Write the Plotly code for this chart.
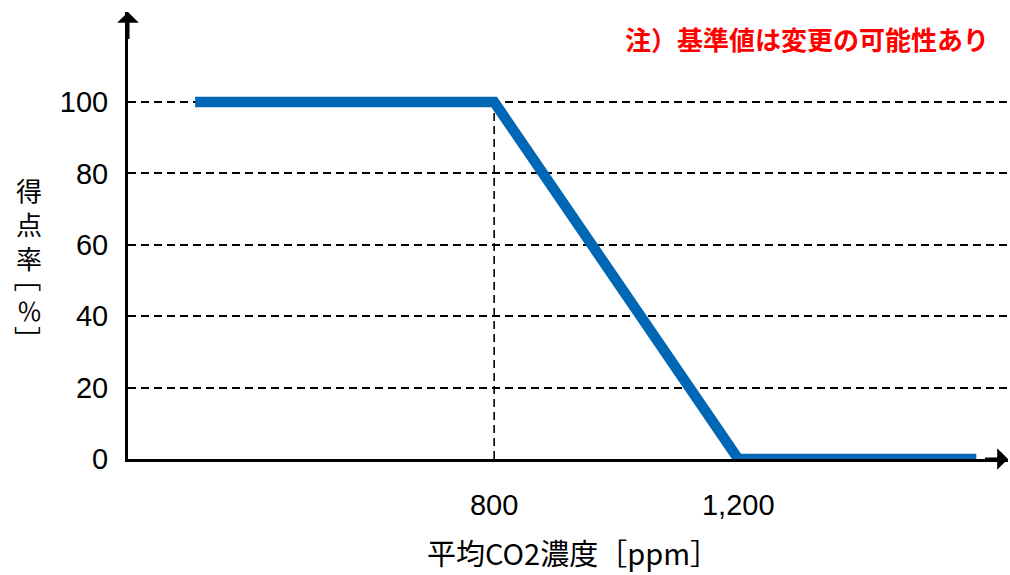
import plotly.graph_objects as go

# ---- data ----
co2_ppm = [310, 800, 1200, 1590]
score_pct = [100, 100, 0, 0]
x_tick_vals = [800, 1200]
x_tick_text = ["800", "1,200"]
y_tick_vals = [0, 20, 40, 60, 80, 100]
y_tick_text = ["0", "20", "40", "60", "80", "100"]
x_range = [200, 1642]
y_range = [0, 125.2]
note_text = "注）基準値は変更の可能性あり"
x_title = "平均CO2濃度［ppm］"
y_title_main = "得<br>点<br>率"
y_title_open = "［"
y_title_unit = "％"
y_title_close = "］"

# ---- layout geometry (pixels) ----
W, H = 1010, 575
L, R, T, B = 128, 2, 12, 116
plot_w = W - L - R
plot_h = H - T - B


def py_to_paper(py):
    return (H - B - py) / plot_h


def px_to_paper(px):
    return (px - L) / plot_w


fig = go.Figure()
fig.add_trace(go.Scatter(
    x=co2_ppm, y=score_pct, mode="lines",
    line=dict(color="#0067b5", width=10.5),
    hoverinfo="skip", showlegend=False,
))

# vertical dashed guide at the knee point
fig.add_shape(type="line", xref="x", yref="y",
              x0=co2_ppm[1], x1=co2_ppm[1], y0=0, y1=score_pct[1],
              line=dict(color="black", width=1.6, dash="8px,5px"), layer="below")

cjk = "Noto Sans CJK JP"
annotations = []
# arrow heads for the axes
annotations.append(dict(x=x_range[1], y=0, ax=x_range[1] - 40, ay=0,
                        xref="x", yref="y", axref="x", ayref="y",
                        showarrow=True, arrowhead=1, arrowsize=1.2, arrowwidth=3,
                        arrowcolor="black", text=""))
annotations.append(dict(x=x_range[0], y=y_range[1], ax=x_range[0], ay=y_range[1] - 8,
                        xref="x", yref="y", axref="x", ayref="y",
                        showarrow=True, arrowhead=1, arrowsize=1.2, arrowwidth=3,
                        arrowcolor="black", text=""))
# note
annotations.append(dict(x=px_to_paper(991), y=py_to_paper(38), xref="paper", yref="paper",
                        xanchor="right", yanchor="middle", showarrow=False,
                        text="<b>" + note_text + "</b>",
                        font=dict(family=cjk, size=26, color="#ff0000")))
# x-axis title
annotations.append(dict(x=px_to_paper(573), y=py_to_paper(552), xref="paper", yref="paper",
                        xanchor="center", yanchor="middle", showarrow=False, text=x_title,
                        font=dict(family=cjk, size=29, color="black")))

# vertical y-axis title (characters stacked, brackets rotated)
cx = px_to_paper(29)
annotations.append(dict(x=cx, y=py_to_paper(223), xref="paper", yref="paper",
                        xanchor="center", yanchor="middle", showarrow=False, text=y_title_main,
                        font=dict(family=cjk, size=26, color="black")))
annotations.append(dict(x=cx, y=py_to_paper(278), xref="paper", yref="paper",
                        xanchor="center", yanchor="middle", showarrow=False, text=y_title_open,
                        textangle=90, font=dict(family=cjk, size=27, color="black")))
annotations.append(dict(x=cx, y=py_to_paper(310), xref="paper", yref="paper",
                        xanchor="center", yanchor="middle", showarrow=False, text=y_title_unit,
                        font=dict(family=cjk, size=25, color="black")))
annotations.append(dict(x=cx, y=py_to_paper(339), xref="paper", yref="paper",
                        xanchor="center", yanchor="middle", showarrow=False, text=y_title_close,
                        textangle=90, font=dict(family=cjk, size=27, color="black")))

fig.update_layout(
    width=W, height=H,
    margin=dict(l=L, r=R, t=T, b=B, pad=0, autoexpand=False),
    paper_bgcolor="white", plot_bgcolor="white",
    showlegend=False,
    annotations=annotations,
    xaxis=dict(
        range=x_range, tickmode="array", tickvals=x_tick_vals, ticktext=x_tick_text,
        showgrid=False, zeroline=False, showline=True, linecolor="black", linewidth=3,
        layer="below traces", ticks="", ticklabelstandoff=18, automargin=False,
        tickfont=dict(family="Liberation Sans", size=29, color="black"),
        fixedrange=True,
    ),
    yaxis=dict(
        range=y_range, tickmode="array", tickvals=y_tick_vals, ticktext=y_tick_text,
        showgrid=True, gridcolor="black", gridwidth=1.6, griddash="8px,5px",
        zeroline=False, showline=True, linecolor="black", linewidth=3,
        layer="below traces", ticks="", ticklabelstandoff=11, automargin=False,
        tickfont=dict(family="Liberation Sans", size=29, color="black"),
        fixedrange=True,
    ),
)

fig.write_html("out.html", config={"displayModeBar": False},
               post_script="document.body.style.margin='0';document.body.style.overflow='hidden';")
